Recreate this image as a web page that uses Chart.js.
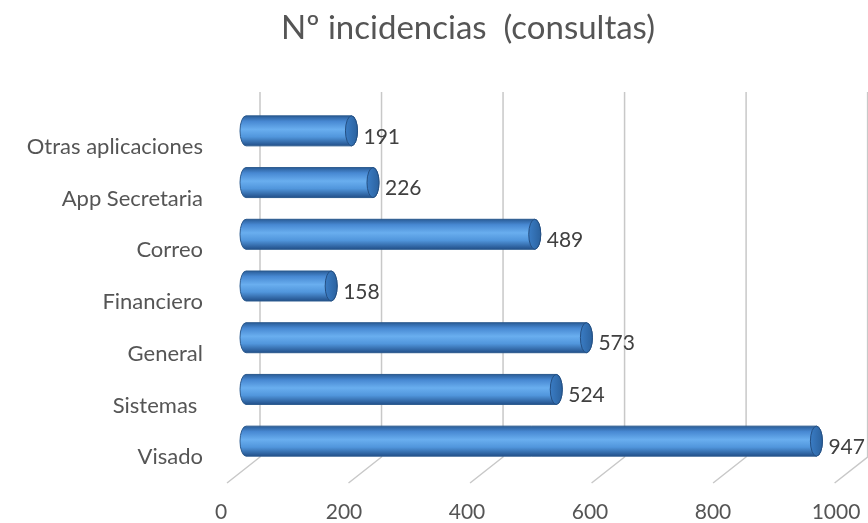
<!DOCTYPE html>
<html>
<head>
<meta charset="utf-8">
<script src="https://cdn.jsdelivr.net/npm/chart.js@4/dist/chart.umd.min.js"></script>
<style>
  html, body { margin: 0; padding: 0; background: #ffffff; }
  #wrap { width: 868px; height: 523px; position: relative; }
</style>
</head>
<body>
<div id="wrap"><canvas id="incidenciasChart"></canvas></div>
<script>
// datos del gráfico
const titulo = 'Nº incidencias  (consultas)';
const categorias = ['Otras aplicaciones', 'App Secretaria', 'Correo', 'Financiero', 'General', 'Sistemas ', 'Visado'];
const incidencias = [191, 226, 489, 158, 573, 524, 947];
const ticksEje = [0, 200, 400, 600, 800, 1000];

const FUENTE = 'Lato, "Open Sans", sans-serif';
const GRIS_TEXTO = '#555555';

// cilindros 3D dibujados sobre la posición que calcula la librería
function dibujarCilindro(ctx, x0, x1, yc, h) {
    const r = h / 2, rx = 6;
    const top = yc - r, bot = yc + r;
    const g = ctx.createLinearGradient(0, top, 0, bot);
    g.addColorStop(0, '#2a5d98');
    g.addColorStop(0.18, '#4788d2');
    g.addColorStop(0.45, '#69aeef');
    g.addColorStop(0.7, '#5196dc');
    g.addColorStop(1, '#22508a');

    ctx.save();
    ctx.beginPath();
    ctx.moveTo(x1 - rx, top);
    ctx.lineTo(x0 + rx, top);
    ctx.ellipse(x0 + rx, yc, rx, r, 0, -Math.PI / 2, Math.PI / 2, true);
    ctx.lineTo(x1 - rx, bot);
    ctx.ellipse(x1 - rx, yc, rx, r, 0, Math.PI / 2, -Math.PI / 2, true);
    ctx.closePath();
    ctx.fillStyle = g;
    ctx.fill();
    ctx.lineWidth = 1;
    ctx.strokeStyle = '#2b5a8e';
    ctx.stroke();

    // tapa derecha
    const gc = ctx.createLinearGradient(x1 - 2 * rx, 0, x1, 0);
    gc.addColorStop(0, '#3a7cc4');
    gc.addColorStop(1, '#2b629f');
    ctx.beginPath();
    ctx.ellipse(x1 - rx, yc, rx, r, 0, 0, Math.PI * 2);
    ctx.fillStyle = gc;
    ctx.fill();
    ctx.strokeStyle = '#244f82';
    ctx.stroke();
    ctx.restore();
}

const pluginCilindros = {
    id: 'cilindros',
    beforeDatasetsDraw(chart) {
        // rejilla del fondo y del suelo
        const { ctx, chartArea, scales } = chart;
        const x = scales.x;
        ctx.save();
        ctx.strokeStyle = '#c8c8c8';
        ctx.lineWidth = 1.5;
        ticksEje.forEach(function(v) {
            const px = x.getPixelForValue(v);
            const bx = chartArea.left + 20 + (px - chartArea.left) * 0.988;
            const yTop = chartArea.top - 13;
            const yFloor = chartArea.bottom - 10;
            ctx.beginPath();
            ctx.moveTo(bx, yTop);
            ctx.lineTo(bx, yFloor);
            ctx.lineTo(bx - 33, yFloor + 26);
            ctx.stroke();
        });
        ctx.restore();
    },
    beforeDatasetDraw() {
        return false;
    },
    afterDatasetsDraw(chart) {
        const ctx = chart.ctx;
        const meta = chart.getDatasetMeta(0);
        meta.data.forEach(function(bar, i) {
            const p = bar.getProps(['x', 'y', 'base', 'height'], true);
            dibujarCilindro(ctx, p.base, p.x, p.y, p.height);
            ctx.save();
            ctx.font = '21px ' + FUENTE;
            ctx.fillStyle = '#404040';
            ctx.textBaseline = 'middle';
            ctx.textAlign = 'left';
            ctx.fillText(String(incidencias[i]), p.x + 6, p.y + 6);
            ctx.restore();
        });
    },
    afterDraw(chart) {
        // título
        const ctx = chart.ctx;
        ctx.save();
        ctx.font = '33px ' + FUENTE;
        ctx.fillStyle = GRIS_TEXTO;
        ctx.textAlign = 'center';
        ctx.textBaseline = 'alphabetic';
        ctx.fillText(titulo, 468, 39);
        ctx.restore();
    }
};

new Chart(document.getElementById('incidenciasChart'), {
    type: 'bar',
    data: {
        labels: categorias,
        datasets: [{
            label: 'Nº incidencias',
            data: incidencias,
            backgroundColor: '#4a8fd6',
            barPercentage: 0.58,
            categoryPercentage: 1
        }]
    },
    options: {
        indexAxis: 'y',
        responsive: true,
        maintainAspectRatio: false,
        animation: false,
        layout: {
            padding: { left: 0, right: 13, top: 105, bottom: 0 }
        },
        plugins: {
            legend: { display: false },
            tooltip: { enabled: false },
            title: { display: false }
        },
        scales: {
            x: {
                min: 0,
                max: 1000,
                afterBuildTicks(scale) {
                    scale.ticks = ticksEje.map(v => ({ value: v }));
                },
                afterFit(scale) {
                    scale.height = 56;
                    scale.paddingLeft = 0;
                    scale.paddingRight = 0;
                },
                grid: { display: false, drawTicks: false },
                border: { display: false },
                ticks: {
                    color: GRIS_TEXTO,
                    font: { family: FUENTE, size: 21 },
                    padding: 33,
                    labelOffset: -19,
                    maxRotation: 0,
                    callback: v => String(v)
                }
            },
            y: {
                afterFit(scale) { scale.width = 240; },
                grid: { display: false, drawTicks: false },
                border: { display: false },
                ticks: {
                    color: GRIS_TEXTO,
                    font: { family: FUENTE, size: 22 },
                    padding: 37,
                    labelOffset: 16
                }
            }
        }
    },
    plugins: [pluginCilindros]
});
</script>
</body>
</html>
